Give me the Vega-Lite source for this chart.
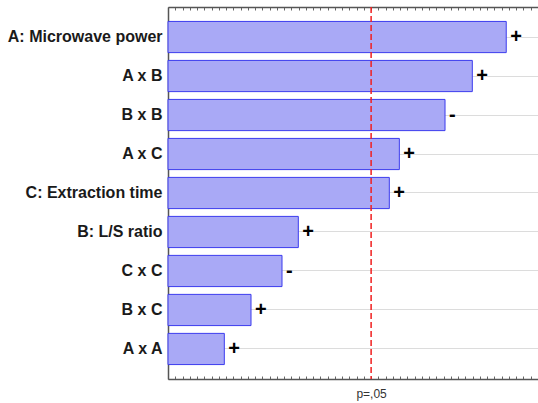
{
  "$schema": "https://vega.github.io/schema/vega-lite/v6.json",
  "width": 370,
  "height": 372,
  "autosize": "none",
  "padding": {"left": 168, "top": 7, "right": 0, "bottom": 24},
  "background": "white",
  "config": {
    "view": {"stroke": null},
    "font": "Liberation Sans"
  },
  "datasets": {
    "effects": [
      {"term": "A: Microwave power", "effect": 3.94, "sign": "+"},
      {"term": "A x B", "effect": 3.545, "sign": "+"},
      {"term": "B x B", "effect": 3.227, "sign": "-"},
      {"term": "A x C", "effect": 2.695, "sign": "+"},
      {"term": "C: Extraction time", "effect": 2.578, "sign": "+"},
      {"term": "B: L/S ratio", "effect": 1.518, "sign": "+"},
      {"term": "C x C", "effect": 1.328, "sign": "-"},
      {"term": "B x C", "effect": 0.967, "sign": "+"},
      {"term": "A x A", "effect": 0.656, "sign": "+"}
    ],
    "threshold": [
      {"level": "p=,05", "tcrit": 2.366}
    ]
  },
  "layer": [
    {
      "data": {"name": "effects"},
      "mark": {"type": "bar", "fill": "#a9a9f6", "stroke": "#3b3bee", "strokeWidth": 1},
      "encoding": {
        "y": {
          "field": "term",
          "type": "nominal",
          "sort": null,
          "scale": {"paddingInner": 0.2, "paddingOuter": 0.37},
          "axis": {
            "title": null,
            "orient": "left",
            "grid": true,
            "gridColor": "#dcdcdc",
            "gridWidth": 1,
            "bandPosition": 0.5,
            "domainColor": "#555555",
            "domainWidth": 1.5,
            "tickColor": "#777777",
            "tickSize": -3,
            "labelPadding": 9,
            "labelFont": "Liberation Sans",
            "labelFontSize": 16,
            "labelFontWeight": "bold",
            "labelColor": "#1a1a1a"
          }
        },
        "x": {
          "field": "effect",
          "type": "quantitative",
          "scale": {"domain": [0, 4.31], "nice": false, "zero": true},
          "axis": {
            "title": null,
            "orient": "bottom",
            "grid": false,
            "values": [0, 0.0845, 0.169, 0.2535, 0.338, 0.4225, 0.507, 0.5915, 0.676, 0.7605, 0.845, 0.9295, 1.014, 1.0985, 1.183, 1.2675, 1.352, 1.4365, 1.521, 1.6055, 1.69, 1.7745, 1.859, 1.9435, 2.028, 2.1125, 2.197, 2.2815, 2.366, 2.4505, 2.535, 2.6195, 2.704, 2.7885, 2.873, 2.9575, 3.042, 3.1265, 3.211, 3.2955, 3.38, 3.4645, 3.549, 3.6335, 3.718, 3.8025, 3.887, 3.9715, 4.056, 4.1405, 4.225, 4.3095],
            "labelExpr": "abs(datum.value - 2.366) < 0.001 ? 'p=,05' : ''",
            "labelOverlap": false,
            "labelFlush": false,
            "labelFont": "Liberation Sans",
            "labelFontSize": 12,
            "labelColor": "#333333",
            "labelPadding": 12,
            "domainColor": "#555555",
            "domainWidth": 1.5,
            "tickColor": "#666666",
            "tickSize": -3
          }
        }
      }
    },
    {
      "data": {"name": "effects"},
      "mark": {"type": "text", "align": "left", "baseline": "middle", "dx": 4, "fontSize": 20, "fontWeight": "bold", "color": "#000000", "font": "Liberation Sans"},
      "encoding": {
        "y": {"field": "term", "type": "nominal", "sort": null},
        "x": {"field": "effect", "type": "quantitative", "axis": null},
        "text": {"field": "sign"}
      }
    },
    {
      "data": {"name": "threshold"},
      "mark": {"type": "rule", "color": "#f02020", "strokeWidth": 1.5, "strokeDash": [6, 3]},
      "encoding": {
        "x": {
          "field": "tcrit",
          "type": "quantitative",
          "axis": {
            "title": null,
            "orient": "top",
            "grid": false,
            "labels": false,
            "values": [0, 0.0845, 0.169, 0.2535, 0.338, 0.4225, 0.507, 0.5915, 0.676, 0.7605, 0.845, 0.9295, 1.014, 1.0985, 1.183, 1.2675, 1.352, 1.4365, 1.521, 1.6055, 1.69, 1.7745, 1.859, 1.9435, 2.028, 2.1125, 2.197, 2.2815, 2.366, 2.4505, 2.535, 2.6195, 2.704, 2.7885, 2.873, 2.9575, 3.042, 3.1265, 3.211, 3.2955, 3.38, 3.4645, 3.549, 3.6335, 3.718, 3.8025, 3.887, 3.9715, 4.056, 4.1405, 4.225, 4.3095],
            "domainColor": "#555555",
            "domainWidth": 1.5,
            "tickColor": "#666666",
            "tickSize": -3
          }
        }
      }
    }
  ],
  "resolve": {"axis": {"x": "independent"}}
}
